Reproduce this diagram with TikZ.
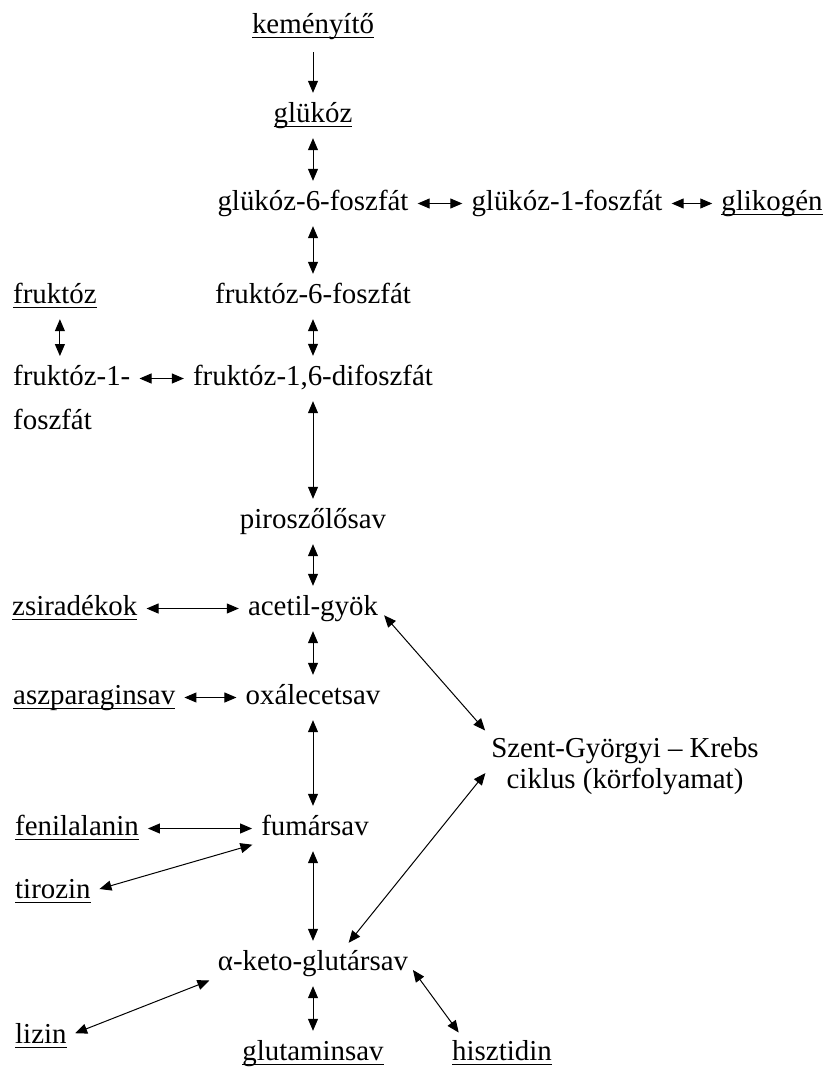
\documentclass[tikz,border=0pt]{standalone}
\usepackage{fontspec}
\setmainfont{Liberation Serif}
\usetikzlibrary{arrows.meta}

\newlength{\ulwidth}
\newcommand{\ulword}[1]{\settowidth{\ulwidth}{#1}\rlap{\rule[-5bp]{\ulwidth}{1.1bp}}#1}

\begin{document}
\begin{tikzpicture}[x = 1bp, y = -1bp, > = {Triangle[length = 12bp, width = 10bp]},
	every node/.style = {font = \fontsize{29}{31}\selectfont, inner sep = 0pt},
	word/.style = {text height = 20bp, text depth = 7bp, anchor = base},
	link/.style = {line width = 1bp, shorten <=9bp, shorten >=9bp}]

	\useasboundingbox (0, 0) rectangle (835, 1069);

	% Carbohydrates

	\node [word] (kem) at (313, 33) {\ulword{keményítő}};
	\node [word] (glu) at (313, 122) {\ulword{glükóz}};
	\node [word] (g6p) at (313, 210) {glükóz-6-foszfát};
	\node [word] (g1p) at (567, 210) {glükóz-1-foszfát};
	\node [word] (gli) at (772, 210) {\ulword{glikogén}};
	\node [word, anchor = base west] (fru) at (13, 303) {\ulword{fruktóz}};
	\node [word] (f6p) at (313, 303) {fruktóz-6-foszfát};
	\node [word] (fdp) at (313, 385) {fruktóz-1,6-difoszfát};
	\node [align = left, anchor = north west] (f1p) at (13, 365) {fruktóz-1-\\[13bp]foszfát};

	% Main chain

	\node [word] (piro) at (313, 528) {piroszőlősav};
	\node [word] (acet) at (313, 615) {acetil-gyök};
	\node [word] (oxal) at (313, 704) {oxálecetsav};
	\node [word] (fum) at (315, 835) {fumársav};
	\node [word] (akg) at (313, 970) {α-keto-glutársav};
	\node [word] (glut) at (313, 1060) {\ulword{glutaminsav}};

	% Side branches

	\node [word, anchor = base west] (zsir) at (12, 615) {\ulword{zsiradékok}};
	\node [word, anchor = base west] (asz) at (13, 704) {\ulword{aszparaginsav}};
	\node [word, anchor = base west] (fen) at (15, 835) {\ulword{fenilalanin}};
	\node [word, anchor = base west] (tir) at (15, 898) {\ulword{tirozin}};
	\node [word, anchor = base west] (liz) at (15, 1043) {\ulword{lizin}};
	\node [word] (his) at (502, 1060) {\ulword{hisztidin}};
	\node [align = center] (krebs) at (625, 766) {Szent-Györgyi – Krebs\\ciklus (körfolyamat)};

	% Various arrows

	\draw [link, ->, shorten <=12bp] (kem) -- (glu);

	\begin{scope}[<->]

		% Vertical

		\draw [link] (glu) -- (g6p);
		\draw [link] (g6p) -- (f6p);
		\draw [link] (f6p) -- (fdp);
		\draw [link] ([xshift = 5bp]fru.south) -- ([xshift = 5bp]fru.south |- f1p.north);
		\draw [link] (fdp) -- (piro);
		\draw [link] (piro) -- (acet);
		\draw [link] (acet) -- (oxal);
		\draw [link] (oxal) -- (oxal |- fum.north);
		\draw [link] (fum.south -| akg) -- (akg);
		\draw [link] (akg) -- (glut);

		% Horizontal

		\draw [link] (g6p) -- (g1p);
		\draw [link] (g1p) -- (gli);
		\draw [link] (f1p.east |- fdp.west) -- (fdp.west);
		\draw [link] (zsir) -- (acet);
		\draw [link] (asz) -- (oxal);
		\draw [link] (fen) -- (fum);

		% Slanted

		\draw [link] (tir.east) -- (fum.south west);
		\draw [link] (liz.east) -- (akg.south west);
		\draw [link, shorten <=8bp] (akg.east) -- ([xshift = 12bp]his.north west);
		\draw [link] (acet.east) -- (krebs.north west);
		\draw [link] (krebs.west) -- ([xshift = 30bp]akg.north);

	\end{scope}

\end{tikzpicture}
\end{document}
